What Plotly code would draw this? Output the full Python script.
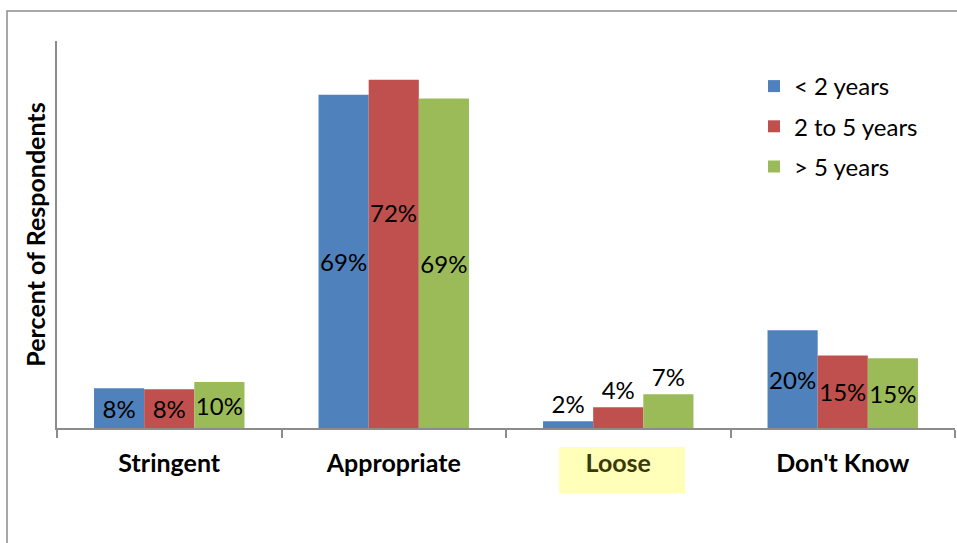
import plotly.graph_objects as go

categories = ["Stringent", "Appropriate", "Loose", "Don't Know"]
series_names = ["< 2 years", "2 to 5 years", "> 5 years"]
lt2_values = [8.2, 68.9, 1.4, 20.2]
mid_values = [8.0, 72.0, 4.3, 15.0]
gt5_values = [9.5, 68.1, 7.0, 14.4]
lt2_labels = ["8%", "69%", "2%", "20%"]
mid_labels = ["8%", "72%", "4%", "15%"]
gt5_labels = ["10%", "69%", "7%", "15%"]
colors = ["#4F81BD", "#C0504D", "#9BBB59"]

FONT = "Lato"
label_pos = ["inside", "inside", "outside", "inside"]

PL, PT, PR, PB = 57, 41, 955, 428  # plot area in page pixels
W, H = 957, 543
pw, ph = PR - PL, PB - PT

def px(x):
    return (x - PL) / pw

def py(y):
    return (PB - y) / ph

fig = go.Figure()
all_vals = [lt2_values, mid_values, gt5_values]
all_labels = [lt2_labels, mid_labels, gt5_labels]
for i, (name, vals, labs) in enumerate(zip(series_names, all_vals, all_labels)):
    shown = list(labs)
    if i == 1:
        shown[1] = ""  # placed via annotation
    fig.add_trace(go.Bar(
        x=categories, y=vals, name=name, text=shown,
        textposition=label_pos, textangle=0, constraintext="none",
        insidetextanchor="middle",
        textfont=dict(family=FONT, size=24, color="black"),
        marker=dict(color=colors[i], line=dict(width=0)),
        legendgroup=str(i), cliponaxis=False,
    ))

fig.add_annotation(x=categories[1], y=mid_values[1] * 0.62, text=mid_labels[1],
                   showarrow=False, font=dict(family=FONT, size=24, color="black"))

ticktext = [c if c != "Loose" else "<span style='color:#3a3a08'>Loose</span>" for c in categories]

fig.update_layout(
    width=W, height=H,
    margin=dict(l=PL, r=W - PR, t=PT, b=H - PB, autoexpand=False),
    paper_bgcolor="white", plot_bgcolor="white",
    barmode="group", bargap=0.33, bargroupgap=0,
    showlegend=True,
    legend=dict(x=px(754), y=py(64), xanchor="left", yanchor="top",
                font=dict(family=FONT, size=24, color="black"),
                traceorder="grouped", tracegroupgap=6,
                bgcolor="rgba(0,0,0,0)"),
    xaxis=dict(tickmode="array", tickvals=categories, ticktext=ticktext,
               showline=True, linecolor="#8c8c8c", linewidth=1.5,
               ticks="outside", tickson="boundaries", ticklen=8, tickcolor="#8c8c8c",
               tickwidth=1.5, ticklabelstandoff=12,
               tickfont=dict(family=FONT, size=25, color="black", weight="bold"),
               showgrid=False),
    yaxis=dict(range=[0, 80], showticklabels=False, ticks="", showgrid=False,
               zeroline=False, showline=True, linecolor="#8c8c8c", linewidth=1.5,
               title=dict(text="Percent of Respondents", standoff=3,
                          font=dict(family=FONT, size=25, color="black", weight="bold"))),
    shapes=[
        dict(type="rect", xref="paper", yref="paper", layer="below",
             x0=px(559), x1=px(685), y0=py(493), y1=py(447),
             fillcolor="#FFFFB9", line=dict(width=0)),
        dict(type="rect", xref="paper", yref="paper", layer="below",
             x0=px(7), x1=px(1100), y0=py(700), y1=py(11),
             fillcolor="rgba(0,0,0,0)", line=dict(color="#8c8c8c", width=1.5)),
    ],
)

fig.write_html(
    "out.html",
    config={"displayModeBar": False},
    post_script="document.body.style.margin='0';document.body.style.overflow='hidden';",
)
